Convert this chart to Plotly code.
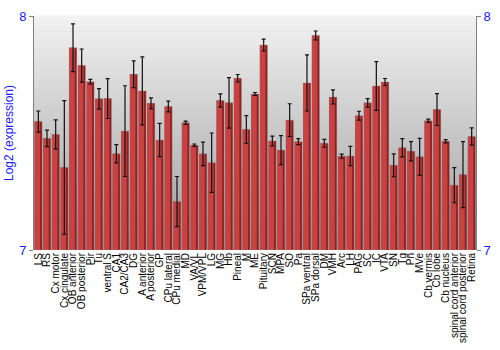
import plotly.graph_objects as go

regions = ["LS", "RS", "Cx motor", "Cx cingulate", "OB anterior", "OB posterior", "Pir", "Tu",
           "ventral S", "CA1", "CA2/CA3", "DG", "A anterior", "A posterior", "GP", "CPu lateral",
           "CPu medial", "MD", "VA/VL", "VPM/VPL", "LG", "MG", "Hb", "Pineal", "M", "ME",
           "Pituitary", "SCN", "MPA", "SO", "Pa", "SPa ventral", "SPa dorsal", "DM", "VMH",
           "Arc", "LH", "PAG", "SC", "IC", "VTA", "SN", "Tg", "Pn", "MVe", "Cb vermis",
           "Cb lobe", "Cb nucleus", "spinal cord anterior", "spinal cord posterior", "Retina"]

expression = [7.549, 7.477, 7.494, 7.353, 7.864, 7.788, 7.719, 7.646,
              7.647, 7.411, 7.508, 7.751, 7.680, 7.627, 7.470, 7.613,
              7.207, 7.544, 7.448, 7.411, 7.373, 7.639, 7.629, 7.734, 7.515, 7.667,
              7.876, 7.466, 7.427, 7.555, 7.463, 7.714, 7.917, 7.456, 7.654,
              7.401, 7.402, 7.574, 7.629, 7.701, 7.718, 7.362, 7.437, 7.422, 7.398, 7.552,
              7.600, 7.465, 7.277, 7.322, 7.485]

error = [0.045, 0.035, 0.062, 0.285, 0.102, 0.071, 0.010, 0.044,
         0.085, 0.039, 0.194, 0.057, 0.145, 0.023, 0.071, 0.023,
         0.107, 0.007, 0.005, 0.050, 0.127, 0.028, 0.108, 0.016, 0.059, 0.006,
         0.025, 0.021, 0.062, 0.070, 0.013, 0.120, 0.019, 0.017, 0.030,
         0.009, 0.041, 0.019, 0.018, 0.104, 0.015, 0.049, 0.039, 0.041, 0.079, 0.007,
         0.068, 0.007, 0.075, 0.141, 0.037]

y_ticks = [7, 8]
y_range = [7, 8]
blue = "#1a1aff"

fig = go.Figure()

fig.add_trace(go.Bar(
    x=regions, y=[v - y_range[0] for v in expression], base=y_range[0],
    width=0.88, marker=dict(color="#8e2222", line=dict(width=0)),
    hoverinfo="skip", showlegend=False))
fig.add_trace(go.Bar(
    x=regions, y=[v - y_range[0] for v in expression], base=y_range[0],
    width=0.62, offset=-0.42, marker=dict(color="#c94141", line=dict(width=0)),
    hoverinfo="skip", showlegend=False))
fig.add_trace(go.Bar(
    x=regions, y=[v - y_range[0] for v in expression], base=y_range[0],
    width=0.88, marker=dict(color="rgba(0,0,0,0)", line=dict(width=0.6, color="rgba(150,150,150,0.5)")),
    error_y=dict(type="data", array=error, visible=True, color="#111111", thickness=1.2, width=2),
    showlegend=False))

n = 60
shapes = []
top = (242, 242, 242)
bot = (158, 158, 158)
for i in range(n):
    t = i / (n - 1)
    c = tuple(int(bot[k] + (top[k] - bot[k]) * t) for k in range(3))
    shapes.append(dict(type="rect", xref="paper", yref="paper",
                       x0=0, x1=1, y0=i / n, y1=(i + 1) / n + 0.002,
                       fillcolor="rgb(%d,%d,%d)" % c, line=dict(width=0), layer="below"))

fig.update_layout(
    width=500, height=350,
    margin=dict(l=27, r=13, t=9, b=100),
    paper_bgcolor="white", plot_bgcolor="#c8c8c8",
    barmode="overlay", bargap=0.12,
    shapes=shapes,
    font=dict(family="Liberation Sans, Arial, sans-serif", size=10, color="black"),
    xaxis=dict(tickangle=-90, tickfont=dict(size=10, color="black"), showgrid=False,
               tickmode="array", tickvals=regions, ticktext=regions,
               showline=False, ticks="", automargin=False, range=[-0.5, len(regions) - 0.5]),
    yaxis=dict(range=y_range, tickvals=y_ticks, ticktext=[str(v) for v in y_ticks],
               tickfont=dict(size=13, color=blue), showgrid=False, zeroline=False,
               showline=True, linecolor="#808080", linewidth=1, mirror=True,
               ticks="outside", ticklen=4, tickcolor="#808080",
               title=dict(text="Log2 (expression)", font=dict(size=12, color=blue), standoff=2)),
    yaxis2=dict(range=y_range, tickvals=y_ticks, ticktext=[str(v) for v in y_ticks],
                tickfont=dict(size=13, color=blue), overlaying="y", side="right",
                showgrid=False, zeroline=False, showline=False,
                ticks="outside", ticklen=4, tickcolor="#808080"),
)
fig.add_trace(go.Scatter(x=[regions[0]], y=[y_range[0]], yaxis="y2", mode="markers",
                         marker=dict(opacity=0), showlegend=False, hoverinfo="skip"))

fig.write_html("out.html")
